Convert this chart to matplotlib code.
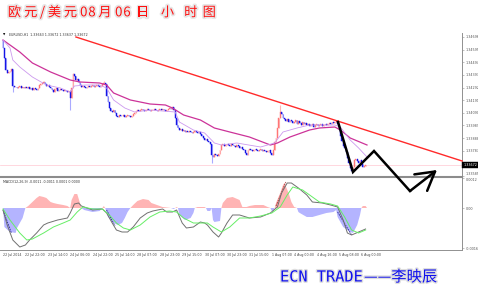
import numpy as np
import matplotlib
matplotlib.use("Agg")
import matplotlib.pyplot as plt
import matplotlib.patheffects as pe
import matplotlib.transforms as mtransforms

# ---- EURUSD H1 candles (close per bar, open = previous close) ----
open0 = 1.34672
closes = [
    1.34608, 1.34528, 1.34432, 1.34408, 1.34416, 1.34424, 1.34440, 1.34304, 1.34296,
    1.34296, 1.34288, 1.34296, 1.34304, 1.34288, 1.34296, 1.34288, 1.34296,
    1.34288, 1.34296, 1.34280, 1.34288, 1.34272, 1.34288, 1.34280, 1.34272,
    1.34288, 1.34312, 1.34320, 1.34328, 1.34336,
    1.34320, 1.34304, 1.34312, 1.34296,
    1.34288, 1.34272, 1.34256, 1.34280, 1.34288, 1.34264, 1.34272,
    1.34280, 1.34272, 1.34264, 1.34272, 1.34264, 1.34256, 1.34264,
    1.34208, 1.34288, 1.34400, 1.34384,
    1.34352, 1.34360, 1.34336,
    1.34312, 1.34296, 1.34304, 1.34296, 1.34288, 1.34296,
    1.34304, 1.34296, 1.34304, 1.34312, 1.34296, 1.34304, 1.34312, 1.34304, 1.34296, 1.34304,
    1.34320, 1.34328, 1.34320,
    1.34224, 1.34176,
    1.34128, 1.34104, 1.34096, 1.34112, 1.34088,
    1.34064, 1.34056, 1.34072, 1.34064,
    1.34064, 1.34072, 1.34056, 1.34064, 1.34072, 1.34064, 1.34056, 1.34064, 1.34080, 1.34088,
    1.34104, 1.34112, 1.34104, 1.34112, 1.34120, 1.34112, 1.34104, 1.34112, 1.34120,
    1.34112, 1.34104, 1.34112, 1.34112, 1.34120, 1.34112, 1.34104, 1.34112, 1.34120,
    1.34112, 1.34120, 1.34112, 1.34104, 1.34112, 1.34120, 1.34128, 1.34120,
    1.34136, 1.34112, 1.34048, 1.33992, 1.33968,
    1.33952, 1.33960, 1.33944, 1.33952, 1.33936, 1.33944,
    1.33936, 1.33944, 1.33936, 1.33928, 1.33936, 1.33944, 1.33936, 1.33928, 1.33936, 1.33920,
    1.33904, 1.33888, 1.33872, 1.33880, 1.33864, 1.33856, 1.33840,
    1.33752, 1.33736,
    1.33760, 1.33752, 1.33744, 1.33760,
    1.33792, 1.33832,
    1.33840, 1.33824, 1.33832, 1.33840, 1.33832, 1.33824, 1.33840, 1.33832, 1.33824, 1.33816, 1.33832, 1.33824,
    1.33808, 1.33816, 1.33800, 1.33792, 1.33768, 1.33752, 1.33792,
    1.33800, 1.33792, 1.33784, 1.33792, 1.33800, 1.33792, 1.33784, 1.33792, 1.33800, 1.33784,
    1.33792, 1.33784, 1.33776, 1.33784, 1.33792,
    1.33768, 1.33752, 1.33792, 1.33856, 1.33888, 1.33968, 1.34048, 1.34096, 1.34080,
    1.34048, 1.34040, 1.34024, 1.34040, 1.34016, 1.34032,
    1.34024, 1.34008, 1.34016, 1.34032, 1.34000, 1.34024, 1.34008, 1.33992, 1.34016, 1.34000,
    1.34008, 1.33992, 1.34000, 1.33984, 1.33992, 1.34000, 1.33976, 1.33992, 1.34000, 1.33984,
    1.33992, 1.34000, 1.33984, 1.33992, 1.34000,
    1.33992, 1.34000, 1.34008, 1.34000, 1.34016, 1.34008, 1.34016,
    1.34024, 1.34000, 1.33952, 1.33904, 1.33864, 1.33824, 1.33808, 1.33776, 1.33728, 1.33688, 1.33648, 1.33624,
    1.33656, 1.33712, 1.33720, 1.33704, 1.33688, 1.33712, 1.33680, 1.33656, 1.33664, 1.33672, 1.33672,
]
# long shadows that stick out of the bodies
wick_high = {0: 1.34672, 29: 1.34344, 50: 1.34408, 72: 1.34344, 198: 1.34152, 238: 1.34032}
wick_low = {7: 1.34256, 48: 1.34112, 124: 1.33976, 149: 1.33688, 249: 1.33608}

# moving averages (bar index, price)
slow_ma_idx = [0, 12, 21, 34, 48, 55, 69, 74, 79, 91, 105, 116, 121, 129, 141, 151, 162,
               176, 191, 196, 205, 219, 226, 237, 241, 248, 260]
slow_ma = [1.34672, 1.34576, 1.34488, 1.34416, 1.34352, 1.34336, 1.34328, 1.34312, 1.34248,
           1.34192, 1.34160, 1.34152, 1.34128, 1.34072, 1.34032, 1.33968, 1.33936, 1.33896,
           1.33832, 1.33848, 1.33896, 1.33952, 1.33968, 1.33976, 1.33952, 1.33888, 1.33832]
fast_ma_idx = [0, 5, 7, 12, 21, 31, 41, 48, 51, 59, 69, 74, 79, 87, 94, 105, 123, 126, 136,
               144, 151, 156, 167, 184, 194, 200, 210, 219, 237, 241, 248, 254, 260]
fast_ma = [1.34672, 1.34608, 1.34512, 1.34456, 1.34376, 1.34312, 1.34288, 1.34256, 1.34304,
           1.34312, 1.34312, 1.34288, 1.34192, 1.34128, 1.34096, 1.34112, 1.34096, 1.34016,
           1.33952, 1.33928, 1.33848, 1.33832, 1.33848, 1.33816, 1.33848, 1.33936, 1.33968,
           1.33992, 1.33992, 1.33976, 1.33872, 1.33808, 1.33736]

# drawn objects
trend_idx = [52.1, 327.9]
trend_px = [1.34696, 1.33704]
zigzag_idx = [239.3, 250.0, 265.0, 290.7]
zigzag_px = [1.34016, 1.33616, 1.33784, 1.33464]
arrow_tip = (310.0, 1.33632)

# MACD panel
hist_idx = [0, 1, 5, 9, 10, 12, 14, 16,
            18, 21, 24, 26, 29, 31, 34, 36, 39, 43, 46, 48,
            49, 51, 53, 55, 56,
            58, 64, 69, 71, 72, 73,
            75, 79, 82, 85, 87, 89, 91,
            93, 96, 100, 104, 106, 110, 114, 120,
            122, 123, 124, 125,
            126, 130, 134, 136, 137,
            139, 144, 145, 146, 148, 149,
            150, 151, 155, 156,
            157, 160, 164, 169, 171, 174, 176, 180, 186, 189, 191,
            192, 193, 194,
            195, 198, 200, 201, 204, 206, 208, 210,
            211, 212, 217, 221, 226, 231, 236, 238, 239, 243, 248, 250, 253, 255, 256,
            257, 259, 260]
hist_val = [0.0, -0.00076, -0.00096, -0.001, -0.0008, -0.0006, -0.0004, 0.0,
            0.00008, 0.00024, 0.0004, 0.00048, 0.00044, 0.0004, 0.00024, 0.0002, 0.00016, 0.00012, 0.00008, 0.0,
            0.00032, 0.00056, 0.00056, 0.0002, 0.0,
            -0.00008, -0.00016, -0.00012, 0.0, 0.00008, 0.0,
            -0.00036, -0.0006, -0.00068, -0.0006, -0.0004, -0.00016, 0.0,
            0.00012, 0.00028, 0.00036, 0.00032, 0.0002, 0.00012, 0.00004, 0.0,
            -0.00004, 0.0, 0.00004, 0.0,
            -0.00028, -0.00048, -0.0004, -0.0002, 0.0,
            0.00004, 0.00004, 0.0, -0.00012, -0.00012, 0.0,
            -0.00048, -0.00056, -0.00052, 0.0,
            0.0002, 0.0004, 0.00044, 0.00032, 0.00004, 0.00004, 0.00008, 0.00012, 0.00012, 0.00004, 0.0,
            -0.00012, -0.00012, 0.0,
            0.0002, 0.0006, 0.00092, 0.001, 0.0006, 0.00024, 0.00004, 0.0,
            -0.00016, -0.0002, -0.00036, -0.00036, -0.00028, -0.0002, -0.00016, -0.00008, -0.00036,
            -0.00076, -0.00096, -0.001, -0.00068, -0.00028, 0.0,
            0.00008, 0.00008, 0.0]
macd_idx = [0, 3, 7, 12, 16, 19, 24, 29, 32, 39, 46, 48, 51, 54, 56, 60, 64, 71, 74, 78,
            81, 85, 89, 93, 98, 103, 107, 114, 117, 121, 124, 128, 131, 136, 141, 144, 146,
            150, 154, 156, 160, 164, 169, 176, 184, 191, 196, 199, 203, 206, 211, 217, 221,
            228, 234, 239, 243, 246, 249, 254, 259]
macd_val = [-0.00008, -0.00068, -0.00128, -0.00156, -0.00148, -0.00128, -0.001, -0.00068,
            -0.0006, -0.00048, -0.0004, -0.0002, 0.00016, 0.0002, 0.00008, 0.0, -0.00008,
            -0.00004, -0.0002, -0.0006, -0.00088, -0.00096, -0.00096, -0.00076, -0.0004,
            -0.0002, -0.00012, -0.00004, -0.00016, -0.00016, -0.00008, -0.0006, -0.0008,
            -0.00076, -0.00056, -0.0006, -0.00068, -0.00096, -0.00116, -0.001, -0.0006,
            -0.00028, -0.00028, -0.0004, -0.00036, -0.0002, 0.00004, 0.0006, 0.001, 0.001,
            0.0008, 0.00052, 0.00024, 0.0002, 0.00012, 0.00004, -0.00048, -0.001, -0.00108,
            -0.00096, -0.00084]
sig_idx = [0, 5, 12, 17, 21, 29, 36, 43, 48, 53, 57, 64, 71, 76, 81, 86, 91, 98, 105, 112,
           119, 124, 129, 136, 146, 150, 156, 162, 169, 176, 184, 192, 198, 203, 207, 214,
           219, 226, 234, 239, 244, 249, 254, 259]
sig_val = [-0.00004, -0.00048, -0.001, -0.00128, -0.00124, -0.001, -0.00076, -0.0006,
           -0.00048, -0.00016, 0.00004, -0.00004, -0.00004, -0.00028, -0.0006, -0.0008,
           -0.00088, -0.00068, -0.00036, -0.00016, -0.00012, -0.00016, -0.0004, -0.0006,
           -0.0006, -0.00076, -0.00096, -0.00076, -0.0004, -0.0004, -0.00032, -0.0002,
           0.00004, 0.00052, 0.00084, 0.00072, 0.00052, 0.00024, 0.00016, 0.00008,
           -0.00036, -0.00088, -0.001, -0.00088]
dash_blue_idx = [[0, 6], [74, 80], [239, 249]]
dash_blue_val = [[-0.00008, -0.001], [-0.00008, -0.00072], [-0.00016, -0.00108]]
dash_red_idx = [[195, 202]]
dash_red_val = [[0.00008, 0.00104]]

# axis text
time_labels = ["22 Jul 2014", "22 Jul 22:00", "23 Jul 14:00", "24 Jul 06:00", "24 Jul 22:00",
               "25 Jul 14:00", "28 Jul 07:00", "28 Jul 23:00", "29 Jul 15:00", "30 Jul 07:00",
               "30 Jul 23:00", "31 Jul 15:00", "1 Aug 07:00", "4 Aug 00:00", "4 Aug 16:00",
               "5 Aug 08:00", "6 Aug 00:00"]
bars_per_label = 16
price_ticks = [1.34696, 1.34595, 1.34494, 1.34393, 1.34292, 1.34191, 1.34090,
               1.33989, 1.33888, 1.33787, 1.33585]
macd_ticks = [0.0012, 0.0, -0.0016]
macd_tick_labels = ["0.0012", "0.00", "-0.0016"]
header_price = "EURUSD,H1  1.33663 1.33672 1.33637 1.33672"
header_macd = "MACD(12,26,9) -0.0011 -0.0011 0.0001 0.0000"
title_chars = list("欧元/美元08月06日小时图")
title_x = [14.5, 30.8, 42.5, 54.5, 70.5, 83.7, 92.0, 105.0, 118.7, 127.0, 142.8, 167.5, 190.8, 209.3]
footer_latin = "ECN TRADE"
footer_cjk = "——李映辰"

# ---- layout (pixel based, 478x285) ----
W, H = 478, 285
def fx(px):
    return px / W
def fy(py):
    return 1 - py / H

fig = plt.figure(figsize=(W / 100, H / 100), dpi=100)
fig.patch.set_facecolor("white")
ax_p = fig.add_axes([0, fy(177), fx(462), (177 - 33) / H])
ax_m = fig.add_axes([0, fy(250), fx(462), (250 - 178) / H])
xlim = (-3 / 1.4, 459 / 1.4)
for ax in (ax_p, ax_m):
    ax.set_xlim(*xlim)
    for s in ("top", "left"):
        ax.spines[s].set_visible(False)
    ax.spines["right"].set_color("#909090")
    ax.spines["right"].set_linewidth(0.7)
    ax.yaxis.tick_right()
    ax.tick_params(axis="y", labelsize=2.4, length=1.5, width=0.4, colors="#909090",
                   labelcolor="#555555", pad=1)
ax_p.set_zorder(3)
ax_p.patch.set_visible(False)
ax_p.set_ylim(1.33576, 1.34728)
ax_m.set_ylim(-0.00168, 0.0012)
ax_p.spines["bottom"].set_color("#8c8c8c")
ax_p.spines["bottom"].set_linewidth(1.5)
ax_m.spines["bottom"].set_color("#909090")
ax_m.spines["bottom"].set_linewidth(0.7)
ax_p.set_xticks([])

# candles
c = np.array(closes)
n = len(c)
idx = np.arange(n)
o = np.concatenate([[open0], c[:-1]])
hi = np.maximum(o, c)
lo = np.minimum(o, c)
for k, v in wick_high.items():
    hi[k] = max(hi[k], v)
for k, v in wick_low.items():
    lo[k] = min(lo[k], v)
up = c >= o
ax_p.vlines(idx[up], lo[up], hi[up], color="#ffb4b4", lw=0.8, zorder=2)
ax_p.vlines(idx[~up], lo[~up], hi[~up], color="#aaaaff", lw=0.8, zorder=2)
ax_p.bar(idx[up], (c - o)[up], bottom=o[up], width=0.7, color="#ff7676",
         edgecolor="#ff7676", lw=0.3, zorder=3)
ax_p.bar(idx[~up], (c - o)[~up], bottom=o[~up], width=0.7, color="#1414e6",
         edgecolor="#1414e6", lw=0.3, zorder=3)

ax_p.plot(slow_ma_idx, slow_ma, color="#cc3399", lw=0.9, zorder=4)
ax_p.plot(fast_ma_idx, fast_ma, color="#cc99ee", lw=0.6, zorder=4)
ax_p.axhline(c[-1], color="#ffc8d2", lw=0.5, zorder=1)
ax_p.plot(trend_idx, trend_px, color="#ff2a2a", lw=1.0, zorder=5, clip_on=False)

# hand drawn zigzag with arrow
ax_p.plot(zigzag_idx, zigzag_px, color="black", lw=1.8, zorder=10, clip_on=False,
          solid_joinstyle="miter")
ax_p.annotate("", xy=arrow_tip, xytext=(zigzag_idx[-1], zigzag_px[-1]),
              arrowprops=dict(arrowstyle="->,head_length=1.3,head_width=0.75",
                              color="black", lw=1.8, shrinkA=0, shrinkB=0,
                              mutation_scale=10),
              zorder=10, annotation_clip=False)

# price axis labels and current price box
ax_p.set_yticks(price_ticks)
ax_p.set_yticklabels([f"{v:.5f}" for v in price_ticks])
ax_p.get_yticklabels()[-1].set_va("bottom")
trans = mtransforms.blended_transform_factory(ax_p.transAxes, ax_p.transData)
ax_p.text(1.003, c[-1], f"{c[-1]:.5f}", transform=trans, fontsize=2.4, color="white",
          ha="left", va="center", clip_on=False,
          bbox=dict(boxstyle="square,pad=0.35", fc="black", ec="black", lw=0.3))

# MACD
h = np.array(hist_val)
hx = np.array(hist_idx)
ax_m.fill_between(hx, 0, h, where=h >= 0, interpolate=True, color="#ffb4b4", lw=0)
ax_m.fill_between(hx, 0, h, where=h <= 0, interpolate=True, color="#b4b4ff", lw=0)
for xs, ys in zip(dash_blue_idx, dash_blue_val):
    ax_m.plot(xs, ys, color="#2a2a90", lw=0.6, ls=(0, (2, 1)))
for xs, ys in zip(dash_red_idx, dash_red_val):
    ax_m.plot(xs, ys, color="#a02828", lw=0.6, ls=(0, (2, 1)))
ax_m.plot(macd_idx, macd_val, color="#707070", lw=0.7)
ax_m.plot(sig_idx, sig_val, color="#66ee66", lw=0.7)
ax_m.set_yticks(macd_ticks)
ax_m.set_yticklabels(macd_tick_labels)
ax_m.get_yticklabels()[0].set_va("top")
ax_m.set_xticks([k * bars_per_label for k in range(len(time_labels))])
ax_m.set_xticklabels(time_labels)
ax_m.tick_params(axis="x", labelsize=2.3, length=0, pad=2, labelcolor="#444444")
for lab in ax_m.get_xticklabels():
    lab.set_ha("left")

# headers
fig.text(fx(2.5), fy(34.5), "▼", fontsize=2.2, color="black", va="center")
fig.text(fx(9), fy(34.5), header_price, fontsize=2.3, color="#333333", va="center")
fig.text(fx(3), fy(182), header_macd, fontsize=2.3, color="#333333", va="center")

# title
for ch, x in zip(title_chars, title_x):
    fig.text(fx(x), fy(12.8), ch, fontsize=9.5, color="#ff1010", ha="center", va="center",
             family=["Noto Sans CJK SC", "DejaVu Sans"],
             path_effects=[pe.withStroke(linewidth=2.5, foreground="#e6e6e6")])

# footer
fig.text(fx(280), fy(277), footer_latin, fontsize=11, color="#1010ee", ha="left",
         va="center", family="DejaVu Sans Mono",
         path_effects=[pe.withStroke(linewidth=2, foreground="#dedede")])
fig.text(fx(364), fy(277), footer_cjk, fontsize=11, color="#1010ee", ha="left",
         va="center", family=["Noto Sans CJK SC", "DejaVu Sans"],
         path_effects=[pe.withStroke(linewidth=2, foreground="#dedede")])

fig.savefig("out.png", dpi=100)
